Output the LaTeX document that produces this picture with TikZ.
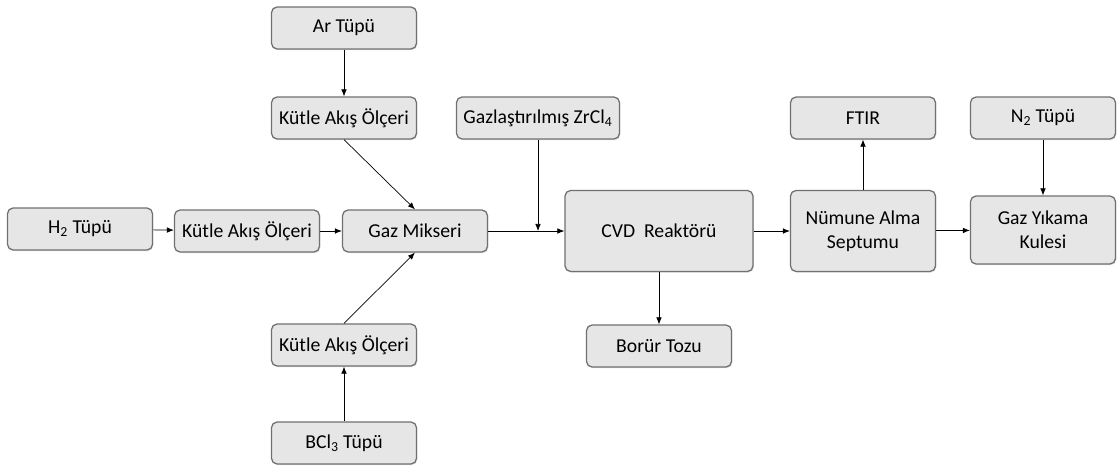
\documentclass[tikz,border=0pt]{standalone}
\usepackage{fontspec}
\setmainfont{Carlito}
\usetikzlibrary{arrows.meta,shadows}
\definecolor{boxfill}{HTML}{E6E6E6}
\definecolor{boxline}{HTML}{707070}

\begin{document}
\begin{tikzpicture}[x=0.025cm,y=-0.025cm,
  box/.style={draw=boxline,fill=boxfill,rounded corners=4pt,line width=0.9pt,
    minimum width=3.625cm,minimum height=1.05cm,align=center,inner xsep=2pt,
    font=\fontsize{14}{17}\selectfont,
    drop shadow={opacity=0.25,shadow xshift=0.6pt,shadow yshift=-0.8pt}},
  flow/.style={-{Latex[length=5pt,width=4pt]},line width=0.5pt}]
\useasboundingbox (0,0) rectangle (1117,466);
% gas supply side
\node[box] (ar) at (344,28) {Ar Tüpü};
\node[box] (kao1) at (344,118) {Kütle Akış Ölçeri};
\node[box] (h2) at (80,229) {H\textsubscript{2} Tüpü};
\node[box] (kao2) at (247,231) {Kütle Akış Ölçeri};
\node[box] (mix) at (415,231) {Gaz Mikseri};
\node[box] (kao3) at (344,345) {Kütle Akış Ölçeri};
\node[box] (bcl) at (344,443) {BCl\textsubscript{3} Tüpü};
\node[box,minimum width=4.075cm] (zr) at (538,118) {Gazlaştırılmış ZrCl\textsubscript{4}};
% reactor and exhaust side
\node[box,minimum width=4.7cm,minimum height=2.025cm] (cvd) at (659,231) {CVD\ \ Reaktörü};
\node[box] (boru) at (659,346) {Borür Tozu};
\node[box,minimum height=2.025cm] (sep) at (863,231) {Nümune Alma\\Septumu};
\node[box] (ftir) at (863,118) {FTIR};
\node[box] (n2) at (1043,118) {N\textsubscript{2} Tüpü};
\node[box,minimum height=1.7cm] (yik) at (1043,230) {Gaz Yıkama\\Kulesi};
\coordinate (join) at (538,231);

\draw[flow] (ar) -- (kao1);
\draw[flow] (kao1.south) -- (mix.north);
\draw[flow] (bcl) -- (kao3);
\draw[flow] (kao3.north) -- (mix.south);
\draw[flow] (h2) -- (kao2);
\draw[flow] (kao2) -- (mix);
\draw[flow] (mix) -- (cvd);
\draw[flow] (zr) -- (join);
\draw[flow] (cvd) -- (sep);
\draw[flow] (cvd) -- (boru);
\draw[flow] (sep) -- (ftir);
\draw[flow] (sep) -- (yik);
\draw[flow] (n2) -- (yik);
\end{tikzpicture}
\end{document}
